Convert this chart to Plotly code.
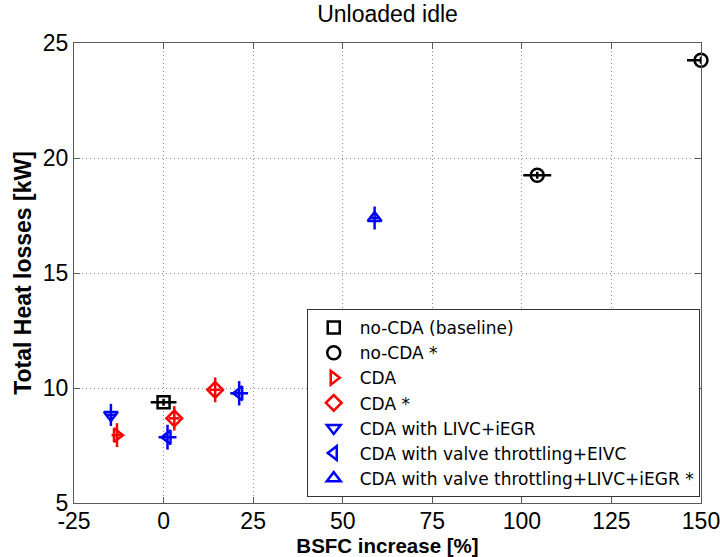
import plotly.graph_objects as go

# BSFC increase [%] and total heat losses [kW] for each strategy, with error bars
base_x = [0.0]
base_y = [9.38]
base_xerr = [3.6]
base_yerr = [0.15]

nocda_x = [104.3, 150.0]
nocda_y = [19.25, 24.25]
nocda_xerr = [3.9, 3.9]
nocda_yerr = [0.15, 0.15]

cda_x = [-13.0]
cda_y = [7.95]
cda_xerr = [1.5]
cda_yerr = [0.52]

cdas_x = [14.4, 3.0]
cdas_y = [9.92, 8.68]
cdas_xerr = [1.5, 1.5]
cdas_yerr = [0.54, 0.53]

livc_x = [-14.7]
livc_y = [8.83]
livc_xerr = [1.5]
livc_yerr = [0.48]

eivc_x = [1.1, 21.1]
eivc_y = [7.86, 9.77]
eivc_xerr = [2.5, 2.5]
eivc_yerr = [0.54, 0.53]

thr_x = [58.9]
thr_y = [17.39]
thr_xerr = [1.5]
thr_yerr = [0.5]

x_ticks = [-25, 0, 25, 50, 75, 100, 125, 150]
x_tick_text = ["-25", "0", "25", "50", "75", "100", "125", "150"]
y_ticks = [5, 10, 15, 20, 25]

series = [
    ("no-CDA (baseline)", base_x, base_y, base_xerr, base_yerr, "square-open", "black", 12),
    ("no-CDA *", nocda_x, nocda_y, nocda_xerr, nocda_yerr, "circle-open", "black", 13),
    ("CDA", cda_x, cda_y, cda_xerr, cda_yerr, "triangle-right-open", "red", 12),
    ("CDA *", cdas_x, cdas_y, cdas_xerr, cdas_yerr, "diamond-open", "red", 12),
    ("CDA with LIVC+iEGR", livc_x, livc_y, livc_xerr, livc_yerr, "triangle-down-open", "blue", 12),
    ("CDA with valve throttling+EIVC", eivc_x, eivc_y, eivc_xerr, eivc_yerr, "triangle-left-open", "blue", 12),
    ("CDA with valve throttling+LIVC+iEGR *", thr_x, thr_y, thr_xerr, thr_yerr, "triangle-up-open", "blue", 12),
]

fig = go.Figure()
for name, xs, ys, xe, ye, sym, col, sz in series:
    fig.add_trace(go.Scatter(
        x=xs, y=ys, mode="markers", name=name,
        marker=dict(symbol=sym, size=sz, color=col, line=dict(color=col, width=2.5)),
        error_x=dict(type="data", array=xe, color=col, thickness=2.5, width=0),
        error_y=dict(type="data", array=ye, color=col, thickness=2.5, width=0),
        cliponaxis=False,
    ))

font = "Liberation Sans, Arial, Helvetica, sans-serif"
axis_common = dict(
    showline=True, linecolor="#5a5a5a", linewidth=1, mirror="ticks",
    ticks="inside", ticklen=6, tickcolor="#5a5a5a", tickwidth=1,
    showgrid=True, gridcolor="#8c8c8c", griddash="1px,3px", gridwidth=1,
    zeroline=False, automargin=False, ticklabeloverflow="allow",
    tickfont=dict(family=font, size=23, color="black"),
)

fig.update_layout(
    width=720, height=557,
    margin=dict(l=74, r=19, t=43, b=54),
    paper_bgcolor="white", plot_bgcolor="white",
    title=dict(text="Unloaded idle", x=0.5, xref="paper", xanchor="center",
               y=1 - 14 / 557, yref="container", yanchor="middle",
               font=dict(family=font, size=23, color="black")),
    xaxis=dict(range=[-25, 150], tickvals=x_ticks, ticktext=x_tick_text,
               ticklabelstandoff=-3,
               title=dict(text="<b>BSFC increase [%]</b>", standoff=0,
                          font=dict(family=font, size=20.5, color="black")),
               **axis_common),
    yaxis=dict(range=[5, 25], tickvals=y_ticks,
               title=dict(text="<b>Total Heat losses [kW]</b>", standoff=4,
                          font=dict(family=font, size=23, color="black")),
               **axis_common),
    legend=dict(x=0.998, xanchor="right", y=0.013, yanchor="bottom",
                bgcolor="white", bordercolor="#333333", borderwidth=1,
                font=dict(family="DejaVu Sans, sans-serif", size=17, color="black"),
                itemwidth=42, tracegroupgap=0),
    showlegend=True,
)

fig.write_html("out.html")
